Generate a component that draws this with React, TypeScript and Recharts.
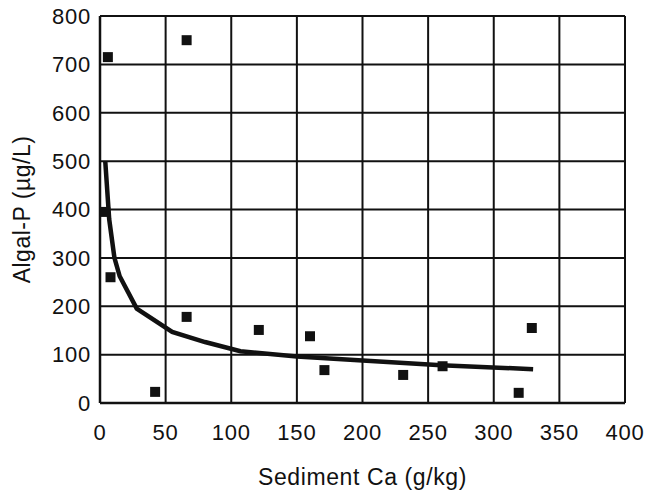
import React from "react";
import { ComposedChart, Scatter, Line, XAxis, YAxis, ZAxis, CartesianGrid, Label } from "recharts";

const pointX = [4, 6, 8, 42, 66, 66, 121, 160, 171, 231, 261, 319, 329];
const pointY = [395, 715, 260, 23, 750, 178, 151, 138, 68, 58, 76, 21, 155];

const curveX = [4, 7, 11, 15, 28, 55, 80, 107, 150, 200, 260, 330];
const curveY = [500, 380, 300, 262, 195, 147, 126, 107, 96, 88, 78, 70];

const xTicks = [0, 50, 100, 150, 200, 250, 300, 350, 400];
const yTicks = [0, 100, 200, 300, 400, 500, 600, 700, 800];

const points = pointX.map((x, i) => ({ x, y: pointY[i] }));
const curve = curveX.map((x, i) => ({ x, y: curveY[i] }));

const font = "'Liberation Sans', Arial, Helvetica, sans-serif";

export default function App() {
  return (
    <div style={{ position: "absolute", left: 0, top: 0, background: "#fff" }}>
      <ComposedChart
        width={647}
        height={491}
        margin={{ top: 16, right: 22, left: 0, bottom: 0 }}
      >
        <CartesianGrid stroke="#111" strokeWidth={2} />
        <XAxis
          type="number"
          dataKey="x"
          domain={[0, 400]}
          ticks={xTicks}
          interval={0}
          height={88}
          tickLine={false}
          axisLine={{ stroke: "#111", strokeWidth: 2.5 }}
          tickMargin={15}
          tick={{ fill: "#111", fontSize: 22, fontFamily: font, letterSpacing: 0.8 }}
          allowDataOverflow
        >
          <Label
            value="Sediment Ca (g/kg)"
            position="insideBottom"
            offset={6}
            style={{ fill: "#111", fontSize: 23, fontFamily: font, letterSpacing: 0.6 }}
          />
        </XAxis>
        <YAxis
          type="number"
          dataKey="y"
          domain={[0, 800]}
          ticks={yTicks}
          interval={0}
          width={100}
          tickLine={false}
          axisLine={{ stroke: "#111", strokeWidth: 2.5 }}
          tickMargin={3}
          tick={{ fill: "#111", fontSize: 22, fontFamily: font, letterSpacing: 0.8 }}
          allowDataOverflow
        >
          <Label
            value="Algal-P (µg/L)"
            angle={-90}
            position="insideLeft"
            offset={22}
            style={{ fill: "#111", fontSize: 23, fontFamily: font, textAnchor: "middle", letterSpacing: 0.5 }}
          />
        </YAxis>
        <ZAxis range={[100, 100]} />
        <Line
          data={curve}
          dataKey="y"
          type="linear"
          stroke="#111"
          strokeWidth={4.5}
          dot={false}
          activeDot={false}
          isAnimationActive={false}
        />
        <Scatter
          data={points}
          dataKey="y"
          shape="square"
          fill="#111"
          legendType="none"
          isAnimationActive={false}
        />
      </ComposedChart>
    </div>
  );
}
